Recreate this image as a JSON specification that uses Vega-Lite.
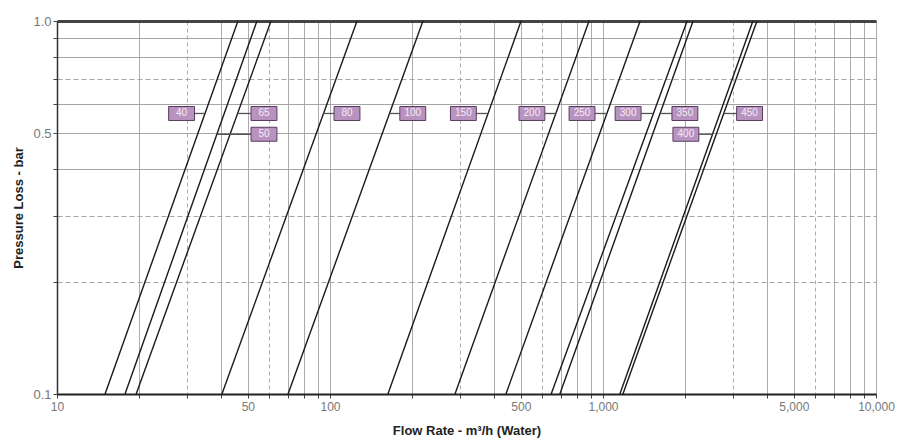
{
  "$schema": "https://vega.github.io/schema/vega-lite/v6.json",
  "width": 819,
  "height": 373,
  "autosize": "none",
  "padding": {"left": 57, "top": 21, "right": 21, "bottom": 47},
  "background": "white",
  "config": {
    "view": {"stroke": "#8a8a8a", "strokeWidth": 1},
    "font": "Liberation Sans"
  },
  "datasets": {
    "curves": [
      {"size": "40", "flow": 15.0, "dp": 0.1}, {"size": "40", "flow": 46.0, "dp": 1.0},
      {"size": "50", "flow": 17.75, "dp": 0.1}, {"size": "50", "flow": 54.0, "dp": 1.0},
      {"size": "65", "flow": 19.5, "dp": 0.1}, {"size": "65", "flow": 60.8, "dp": 1.0},
      {"size": "80", "flow": 40.2, "dp": 0.1}, {"size": "80", "flow": 125.6, "dp": 1.0},
      {"size": "100", "flow": 70.2, "dp": 0.1}, {"size": "100", "flow": 219, "dp": 1.0},
      {"size": "150", "flow": 163, "dp": 0.1}, {"size": "150", "flow": 501, "dp": 1.0},
      {"size": "200", "flow": 287, "dp": 0.1}, {"size": "200", "flow": 889, "dp": 1.0},
      {"size": "250", "flow": 441, "dp": 0.1}, {"size": "250", "flow": 1368, "dp": 1.0},
      {"size": "300", "flow": 646, "dp": 0.1}, {"size": "300", "flow": 2033, "dp": 1.0},
      {"size": "350", "flow": 695, "dp": 0.1}, {"size": "350", "flow": 2138, "dp": 1.0},
      {"size": "400", "flow": 1153, "dp": 0.1}, {"size": "400", "flow": 3541, "dp": 1.0},
      {"size": "450", "flow": 1183, "dp": 0.1}, {"size": "450", "flow": 3664, "dp": 1.0}
    ],
    "labels": [
      {"size": "40", "flow": 28.6, "dp": 0.565, "line_flow": 34.7},
      {"size": "65", "flow": 57.3, "dp": 0.565, "line_flow": 45.8},
      {"size": "50", "flow": 57.3, "dp": 0.497, "line_flow": 38.5},
      {"size": "80", "flow": 115.4, "dp": 0.565, "line_flow": 94.5},
      {"size": "100", "flow": 201, "dp": 0.565, "line_flow": 165},
      {"size": "150", "flow": 308, "dp": 0.565, "line_flow": 378},
      {"size": "200", "flow": 549, "dp": 0.565, "line_flow": 670},
      {"size": "250", "flow": 838, "dp": 0.565, "line_flow": 1030},
      {"size": "300", "flow": 1236, "dp": 0.565, "line_flow": 1524},
      {"size": "350", "flow": 1995, "dp": 0.565, "line_flow": 1614},
      {"size": "400", "flow": 2012, "dp": 0.497, "line_flow": 2518},
      {"size": "450", "flow": 3443, "dp": 0.565, "line_flow": 2767}
    ]
  },
  "layer": [
    {
      "data": {"name": "curves"},
      "mark": {"type": "line", "color": "#1a1a1a", "strokeWidth": 1.4},
      "encoding": {
        "x": {
          "field": "flow", "type": "quantitative",
          "scale": {"type": "log", "domain": [10, 10000]},
          "axis": {
            "title": "Flow Rate - m³/h (Water)",
            "titleFont": "Liberation Sans", "titleFontSize": 13, "titleFontWeight": "bold", "titleColor": "#222",
            "titlePadding": 12,
            "values": [10,20,30,40,50,60,70,80,90,100,200,300,400,500,600,700,800,900,1000,2000,3000,4000,5000,6000,7000,8000,9000,10000],
            "labelExpr": "indexof([10,50,100,500,1000,5000,10000], datum.value) >= 0 ? format(datum.value, ',') : ''",
            "labelColor": "#777", "labelFontSize": 12, "labelFont": "Liberation Sans",
            "labelFlush": false, "labelOverlap": false, "labelPadding": 3,
            "domainColor": "#222", "domainWidth": 2,
            "tickColor": "#444", "tickSize": 4,
            "grid": true,
            "gridColor": "#ababab", "gridWidth": 1,
            "gridDash": {
              "condition": {"test": "indexof([3,6], round(datum.value / pow(10, floor(log(datum.value)/LN10 + 1e-9)))) >= 0", "value": [4, 3]},
              "value": []
            }
          }
        },
        "y": {
          "field": "dp", "type": "quantitative",
          "scale": {"type": "log", "domain": [0.1, 1]},
          "axis": {
            "title": "Pressure Loss - bar",
            "titleFont": "Liberation Sans", "titleFontSize": 13, "titleFontWeight": "bold", "titleColor": "#222",
            "titlePadding": 7,
            "values": [0.1,0.2,0.3,0.4,0.5,0.6,0.7,0.8,0.9,1.0],
            "labelExpr": "datum.value > 0.99 ? '1.0' : (abs(datum.value-0.5) < 0.001 ? '0.5' : (abs(datum.value-0.1) < 0.001 ? '0.1' : ''))",
            "labelColor": "#777", "labelFontSize": 13, "labelFont": "Liberation Sans",
            "labelFlush": false, "labelOverlap": false,
            "domainColor": "#333", "domainWidth": 1.5,
            "tickColor": "#444", "tickSize": 4,
            "grid": true,
            "gridColor": {"condition": {"test": "datum.value > 0.99", "value": "#444"}, "value": "#a5a5a5"},
            "gridWidth": {"condition": {"test": "datum.value > 0.99", "value": 3}, "value": 1},
            "gridDash": {
              "condition": {"test": "abs(datum.value-0.2) < 0.001 || abs(datum.value-0.3) < 0.001 || abs(datum.value-0.7) < 0.001", "value": [5, 3]},
              "value": []
            }
          }
        },
        "detail": {"field": "size"}
      }
    },
    {
      "data": {"name": "labels"},
      "mark": {"type": "rule", "color": "#555", "strokeWidth": 1.3},
      "encoding": {
        "x": {"field": "flow", "type": "quantitative"},
        "x2": {"field": "line_flow"},
        "y": {"field": "dp", "type": "quantitative"}
      }
    },
    {
      "data": {"name": "labels"},
      "mark": {"type": "point", "shape": "M-1.85,-1H1.85V1H-1.85Z", "size": 196, "filled": true, "fill": "#b993bf", "stroke": "#5a3d60", "strokeWidth": 1, "opacity": 1},
      "encoding": {
        "x": {"field": "flow", "type": "quantitative"},
        "y": {"field": "dp", "type": "quantitative"}
      }
    },
    {
      "data": {"name": "labels"},
      "mark": {"type": "text", "fontSize": 10, "color": "#f4ecf5", "font": "Liberation Sans"},
      "encoding": {
        "x": {"field": "flow", "type": "quantitative"},
        "y": {"field": "dp", "type": "quantitative"},
        "text": {"field": "size"}
      }
    }
  ]
}
